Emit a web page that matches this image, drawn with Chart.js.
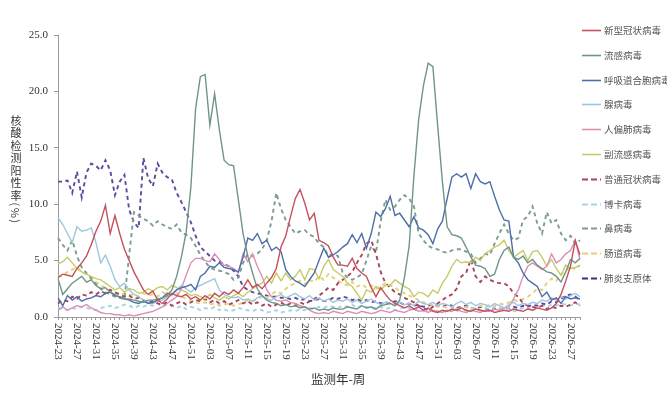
<!DOCTYPE html>
<html>
<head>
<meta charset="utf-8">
<script src="https://cdn.jsdelivr.net/npm/chart.js@4/dist/chart.umd.min.js"></script>
<style>
  html,body{margin:0;padding:0;background:#fff;overflow:hidden;}
  #wrap{position:relative;width:667px;height:407px;overflow:hidden;}
  #wrap canvas{position:absolute;left:0;top:0;}
  #ytitle{position:absolute;left:9px;top:115px;writing-mode:vertical-rl;text-orientation:mixed;
    font-family:"Noto Sans CJK SC",sans-serif;font-size:11px;color:#333;letter-spacing:1.5px;line-height:14px;}
  #xtitle{position:absolute;left:311px;top:369px;font-family:"Noto Sans CJK SC",sans-serif;font-size:12.5px;color:#333;white-space:nowrap;}
  #legend{position:absolute;left:582px;top:0;width:100px;}
  .li{position:absolute;left:0;height:14px;white-space:nowrap;font-family:"Noto Sans CJK SC",sans-serif;font-size:9.5px;color:#555;line-height:14px;}
  .li svg{position:absolute;left:0;top:6px;}
  .li span{position:absolute;left:22px;top:0;}
</style>
</head>
<body>
<div id="wrap">
  <canvas id="c" width="667" height="407"></canvas>
  <div id="ytitle">核酸检测阳性率(%)</div>
  <div id="xtitle">监测年-周</div>
  <div id="legend"></div>
</div>
<script>
const weeks = [
 "2024-23","2024-24","2024-25","2024-26","2024-27","2024-28","2024-29","2024-30","2024-31","2024-32",
 "2024-33","2024-34","2024-35","2024-36","2024-37","2024-38","2024-39","2024-40","2024-41","2024-42",
 "2024-43","2024-44","2024-45","2024-46","2024-47","2024-48","2024-49","2024-50","2024-51","2024-52",
 "2025-01","2025-02","2025-03","2025-04","2025-05","2025-06","2025-07","2025-08","2025-09","2025-10",
 "2025-11","2025-12","2025-13","2025-14","2025-15","2025-16","2025-17","2025-18","2025-19","2025-20",
 "2025-21","2025-22","2025-23","2025-24","2025-25","2025-26","2025-27","2025-28","2025-29","2025-30",
 "2025-31","2025-32","2025-33","2025-34","2025-35","2025-36","2025-37","2025-38","2025-39","2025-40",
 "2025-41","2025-42","2025-43","2025-44","2025-45","2025-46","2025-47","2025-48","2025-49","2025-50",
 "2025-51","2025-52","2026-01","2026-02","2026-03","2026-04","2026-05","2026-06","2026-07","2026-08",
 "2026-09","2026-10","2026-11","2026-12","2026-13","2026-14","2026-15","2026-16","2026-17","2026-18",
 "2026-19","2026-20","2026-21","2026-22","2026-23","2026-24","2026-25","2026-26","2026-27","2026-28","2026-29"];

const tickLabels = ["2024-23","2024-27","2024-31","2024-35","2024-39","2024-43","2024-47","2024-51",
 "2025-03","2025-07","2025-11","2025-15","2025-19","2025-23","2025-27","2025-31","2025-35","2025-39",
 "2025-43","2025-47","2025-51","2026-03","2026-07","2026-11","2026-15","2026-19","2026-23","2026-27"];

const yTicks = [0, 5, 10, 15, 20, 25];

const covid = [3.5,3.8,3.7,3.6,4.3,4.8,5.4,6.4,7.6,8.5,
 9.9,7.4,9.0,7.4,6.0,5.0,4.0,3.2,2.4,2.0,
 2.3,1.5,1.2,1.6,2.1,1.9,1.8,2.0,1.6,1.8,
 1.5,1.9,1.6,2.1,1.8,2.2,2.0,2.4,2.1,2.6,
 3.3,2.6,2.9,2.5,3.0,3.5,4.3,6.2,7.2,8.9,
 10.5,11.3,10.1,8.6,9.2,6.8,6.6,6.3,5.3,4.6,
 4.6,4.5,5.2,4.3,3.9,3.6,2.6,1.8,2.6,2.0,
 1.5,1.2,1.0,0.8,1.0,0.7,0.9,0.6,0.8,0.5,
 0.4,0.6,0.5,0.7,0.6,0.8,0.6,0.5,0.7,0.6,
 0.5,0.6,0.4,0.5,0.6,0.5,0.7,0.6,0.5,0.7,
 0.6,0.8,0.7,0.6,0.8,1.2,2.0,3.2,4.5,6.8,5.5];

const flu = [3.4,2.0,2.5,3.0,3.3,3.6,3.1,3.3,2.8,2.5,
 2.6,2.2,2.0,1.7,1.6,1.6,1.5,1.4,1.3,1.5,
 1.5,1.6,1.7,1.9,2.4,3.6,5.3,7.5,11.5,18.5,
 21.3,21.5,17.0,19.8,16.6,13.9,13.5,13.4,10.4,7.4,
 5.4,3.9,2.5,1.9,1.5,1.3,1.2,1.0,1.1,0.9,
 1.0,0.8,0.9,0.7,0.8,0.6,0.7,0.6,0.8,0.7,
 0.7,0.9,0.8,0.7,1.0,0.8,0.9,0.7,1.0,1.1,
 1.2,1.0,1.5,3.5,6.3,12.5,17.5,20.5,22.5,22.2,
 17.0,12.0,8.0,7.3,7.2,7.0,6.2,5.3,4.6,4.5,
 4.3,3.6,3.8,5.1,5.9,6.2,5.3,5.1,5.4,4.8,
 5.1,4.6,4.3,4.0,3.9,3.6,3.1,4.0,5.1,4.8,5.2];

const rsv = [1.7,1.0,1.9,1.5,1.8,1.4,1.6,1.7,1.9,1.8,
 2.1,2.2,1.9,1.8,1.6,1.5,1.3,1.2,1.4,1.2,
 1.3,1.5,1.7,2.1,2.0,2.4,2.6,2.7,2.9,2.4,
 3.6,3.9,4.5,4.4,4.8,4.4,4.3,4.2,4.0,5.3,
 7.0,6.8,7.4,6.5,6.8,5.9,6.2,5.8,4.2,3.6,
 3.2,3.0,2.7,3.3,3.9,5.0,6.1,5.3,5.5,5.8,
 6.2,6.5,7.3,6.6,7.4,6.1,7.4,9.3,8.9,9.6,
 10.7,9.0,9.2,8.6,8.0,8.9,7.9,7.7,7.3,6.5,
 7.8,8.5,10.5,12.4,12.7,12.4,12.7,11.4,12.7,12.0,
 11.8,12.0,10.7,9.5,8.6,8.5,5.3,4.8,3.9,3.3,
 3.0,2.7,1.8,2.2,1.5,1.7,1.2,1.8,1.6,1.7,1.6];

const adeno = [8.8,8.2,7.4,6.6,8.0,7.6,7.7,7.9,6.6,4.8,
 5.5,4.5,3.3,2.7,3.0,2.4,2.0,1.8,1.5,1.3,
 1.2,1.4,1.5,1.8,2.0,2.4,2.8,2.5,2.2,2.6,
 2.8,3.0,3.2,3.4,2.4,2.0,1.8,1.7,1.8,1.5,
 1.6,1.4,1.7,1.9,1.6,1.5,1.8,2.0,1.7,1.9,
 2.1,1.8,1.6,1.9,1.5,1.7,1.4,1.6,1.3,1.5,
 1.4,1.6,1.3,1.5,1.2,1.4,1.6,1.3,1.1,1.3,
 1.2,1.0,1.3,1.1,1.2,1.0,1.4,1.2,1.1,1.3,
 1.0,1.2,1.1,0.9,1.2,1.4,1.1,1.3,1.0,1.2,
 1.1,0.9,1.2,1.0,0.8,1.1,1.3,1.0,1.2,1.1,
 1.3,1.2,1.5,1.4,1.7,1.5,1.8,1.6,1.9,2.1,1.8];

const hmpv = [0.6,0.9,0.6,0.8,1.0,0.9,1.1,0.8,0.6,0.4,
 0.3,0.3,0.2,0.2,0.1,0.2,0.1,0.2,0.3,0.4,
 0.5,0.7,0.9,1.2,1.5,1.8,2.5,3.7,4.8,5.2,
 5.2,5.0,4.9,5.6,5.1,4.6,4.5,4.3,3.9,5.6,
 4.9,5.6,4.5,3.6,2.4,1.8,1.5,1.4,1.5,1.3,
 1.2,1.0,0.9,0.6,0.4,0.3,0.4,0.3,0.5,0.4,
 0.3,0.5,0.4,0.3,0.5,0.4,0.3,0.4,0.6,0.5,
 0.4,0.6,0.5,0.4,0.6,0.7,0.5,0.6,0.4,0.6,
 0.5,0.4,0.6,0.5,0.7,0.5,0.4,0.6,0.5,0.4,
 0.6,0.5,0.7,0.6,0.8,0.9,1.6,2.4,3.6,4.5,
 4.8,4.5,4.2,4.5,5.6,4.8,5.1,5.6,5.9,6.8,5.1];

const paraflu = [4.7,4.9,5.3,4.8,4.3,4.0,3.8,3.6,3.4,3.3,
 3.0,2.7,2.4,2.6,2.2,2.5,2.4,2.1,2.2,2.5,
 2.3,2.6,2.7,2.4,2.8,2.6,2.4,2.2,1.9,2.0,
 1.8,1.6,2.0,1.7,1.5,1.8,1.6,1.9,2.1,1.8,
 2.2,2.5,2.8,3.0,3.6,3.0,3.9,3.2,3.9,3.3,
 3.6,4.2,3.3,4.3,4.2,3.4,4.5,5.1,4.2,3.9,
 3.6,3.0,2.7,2.1,1.5,2.4,2.2,2.7,2.4,2.8,
 2.8,3.3,3.0,2.7,2.5,1.8,2.2,2.1,1.8,2.4,
 2.1,3.0,3.6,4.5,5.1,4.8,4.9,4.8,5.3,5.0,
 5.6,5.9,6.2,6.4,6.8,5.9,5.3,5.6,5.9,5.0,
 5.8,5.9,5.3,4.5,5.1,4.3,3.7,4.6,4.3,4.4,4.6];

const commonCoV = [1.2,1.5,1.4,1.8,1.6,2.0,1.9,2.2,2.0,2.3,
 2.1,2.4,2.2,2.0,1.8,1.9,1.6,1.7,1.5,1.3,
 1.4,1.2,1.1,1.3,1.0,1.2,1.4,1.1,1.3,1.5,
 1.4,1.6,1.3,1.5,1.2,1.4,1.1,1.3,1.5,1.2,
 1.4,1.1,1.3,1.0,1.2,0.9,1.1,1.3,1.0,1.2,
 1.0,1.3,1.1,1.4,1.6,1.9,2.2,2.6,2.4,3.0,
 3.3,3.6,4.0,4.8,5.5,6.5,6.8,5.6,4.0,3.0,
 2.6,2.2,2.0,1.7,1.5,1.3,1.0,0.8,0.6,0.9,
 1.2,1.5,1.8,2.0,2.5,3.6,3.9,5.1,3.6,3.1,
 3.6,3.3,3.1,3.0,3.0,2.7,2.1,1.8,1.2,1.0,
 0.9,0.8,1.0,0.7,0.9,0.8,1.0,0.9,1.1,1.3,1.0];

const boca = [0.8,0.7,0.6,0.8,0.7,0.9,0.8,0.7,0.6,0.8,
 0.9,1.0,0.8,0.9,1.1,1.0,0.8,1.0,0.9,1.1,
 1.0,1.2,0.9,1.1,1.0,0.8,1.0,0.7,0.9,0.8,
 0.6,0.8,0.7,0.9,0.6,0.7,0.5,0.6,0.8,0.7,
 0.6,0.5,0.7,0.6,0.4,0.5,0.6,0.4,0.5,0.6,
 0.5,0.7,0.6,0.8,0.7,0.9,0.8,1.0,0.9,0.8,
 1.0,0.9,1.1,0.8,1.0,0.9,0.7,0.8,0.9,0.7,
 0.8,0.6,0.7,0.9,0.8,0.6,0.7,0.5,0.6,0.7,
 0.5,0.6,0.4,0.6,0.5,0.7,0.6,0.8,0.7,0.6,
 0.8,0.7,0.9,0.8,0.6,0.7,0.5,0.6,0.8,0.7,
 0.9,0.8,1.0,0.9,1.1,1.0,1.2,1.1,1.0,1.2,1.1];

const rhino = [7.0,6.4,5.9,6.8,5.4,4.4,3.9,3.4,2.9,2.5,
 2.2,2.0,1.8,1.7,1.6,5.5,9.3,9.0,8.7,8.5,
 8.1,8.5,8.2,8.0,7.8,8.2,7.5,7.3,7.0,6.3,
 5.5,4.9,4.4,4.2,4.1,4.0,3.8,3.3,3.5,4.8,
 5.6,5.4,5.6,6.0,6.8,8.5,11.0,9.6,8.6,8.0,
 7.4,7.6,7.7,7.3,7.1,6.5,6.2,5.4,5.6,5.4,
 3.9,3.5,3.3,3.5,3.8,5.0,6.3,5.7,8.5,10.4,
 9.5,9.8,10.4,10.8,10.5,9.8,7.4,6.8,6.3,6.1,
 6.0,5.8,5.7,5.9,6.0,6.0,5.8,5.6,4.8,5.2,
 5.6,5.5,6.5,7.4,8.2,7.4,6.8,7.0,8.6,8.9,
 9.8,8.3,7.4,9.3,8.3,8.6,7.4,6.8,7.2,6.5,6.8];

const entero = [3.5,3.7,4.0,4.2,4.4,4.0,3.8,3.5,3.1,2.8,
 2.6,2.4,2.2,2.0,2.1,1.9,2.0,1.8,2.1,1.9,
 2.0,1.8,2.2,2.0,1.9,2.1,1.8,1.6,1.5,1.3,
 1.2,1.3,1.1,1.2,1.0,1.1,1.2,1.0,1.1,1.3,
 1.5,1.4,1.6,1.8,1.7,2.0,2.3,2.1,2.5,2.8,
 3.0,3.2,2.9,3.3,3.1,3.6,3.3,3.8,3.5,3.2,
 3.0,2.8,3.1,2.7,2.9,2.6,2.8,2.5,2.7,3.0,
 2.8,2.6,2.3,2.1,1.9,1.7,1.5,1.3,1.2,1.0,
 0.9,1.0,0.8,0.9,0.7,0.8,0.9,0.7,0.8,1.0,
 0.9,1.1,1.0,1.2,1.1,1.3,1.5,1.4,1.6,1.8,
 2.1,2.5,2.4,3.0,3.4,3.2,3.8,4.1,4.5,4.2,4.6];

const mycoplasma = [12.0,12.0,12.1,11.0,12.9,10.6,12.8,13.6,13.4,13.0,
 13.9,13.0,10.8,12.0,12.6,9.5,8.4,7.9,14.1,12.3,
 11.6,13.6,12.8,12.4,12.2,11.0,10.2,9.3,8.4,7.2,
 6.2,5.8,5.4,5.0,4.9,4.7,4.5,4.1,3.6,2.7,
 2.4,2.2,2.1,2.0,1.9,1.8,1.8,1.7,1.7,1.6,
 1.7,1.5,1.6,1.4,1.5,1.6,1.4,1.5,1.7,1.6,
 1.8,1.7,1.5,1.6,1.4,1.5,1.3,1.4,1.2,1.3,
 1.2,1.4,1.3,1.1,1.2,1.0,1.1,0.9,1.0,1.1,
 1.0,0.9,1.1,1.0,0.8,0.9,1.0,0.8,0.7,0.9,
 0.8,0.6,0.7,0.8,0.6,0.7,0.9,0.8,1.0,0.9,
 1.1,1.0,1.2,1.1,1.4,1.3,1.6,1.9,2.0,1.8,1.5];

const seriesNames = ["新型冠状病毒","流感病毒","呼吸道合胞病毒","腺病毒","人偏肺病毒","副流感病毒",
 "普通冠状病毒","博卡病毒","鼻病毒","肠道病毒","肺炎支原体"];
const seriesData = [covid, flu, rsv, adeno, hmpv, paraflu, commonCoV, boca, rhino, entero, mycoplasma];
const seriesColors = ["#c4515c","#6e9585","#4d6ea8","#9fc6dc","#db8fb5","#c6cb66",
 "#a8455e","#a9d3e4","#7d9d91","#e4d077","#6147a0"];
const seriesDashed = [false,false,false,false,false,false,true,true,true,true,true];

const datasets = seriesNames.map((n, k) => ({
  label: n,
  data: seriesData[k],
  borderColor: seriesColors[k],
  backgroundColor: seriesColors[k],
  borderWidth: seriesDashed[k] ? 1.9 : 1.4,
  borderDash: seriesDashed[k] ? [4, 3.5] : [],
  pointRadius: 0,
  tension: 0,
  fill: false
}));

// HTML legend
const leg = document.getElementById('legend');
seriesNames.forEach((n, k) => {
  const d = document.createElement('div');
  d.className = 'li';
  d.style.top = (23 + k * 24.8) + 'px';
  const dash = seriesDashed[k] ? 'stroke-dasharray="6,3"' : '';
  const col = k === 10 ? '#3d2f7e' : seriesColors[k];
  d.innerHTML = '<svg width="20" height="3"><line x1="0" y1="1.5" x2="19" y2="1.5" stroke="' +
    col + '" stroke-width="' + (seriesDashed[k] ? 2 : 1.6) + '" ' + dash + '/></svg><span>' + n + '</span>';
  leg.appendChild(d);
});

const xLabelPlugin = {
  id: 'xLabels',
  afterDraw(chart) {
    const xs = chart.scales.x;
    const ctx = chart.ctx;
    ctx.save();
    ctx.fillStyle = '#333';
    ctx.font = '11px "Liberation Serif", "DejaVu Serif", serif';
    ctx.textAlign = 'left';
    ctx.textBaseline = 'middle';
    tickLabels.forEach(lbl => {
      const idx = weeks.indexOf(lbl);
      const x = xs.getPixelForValue(idx);
      ctx.save();
      ctx.translate(x, xs.top + 6);
      ctx.rotate(Math.PI / 2);
      ctx.fillText(lbl, 0, 0);
      ctx.restore();
    });
    ctx.restore();
  }
};

new Chart(document.getElementById('c'), {
  type: 'line',
  data: { labels: weeks, datasets },
  options: {
    responsive: false,
    animation: false,
    devicePixelRatio: 1,
    layout: { padding: { left: 18, right: 87, top: 35, bottom: 40 } },
    plugins: { legend: { display: false }, tooltip: { enabled: false } },
    scales: {
      x: {
        type: 'category',
        offset: false,
        afterFit(s) { s.height = 50; },
        border: { display: true, color: '#9a9a9a', width: 1 },
        grid: { display: true, drawOnChartArea: false, drawTicks: true, tickLength: 3, color: '#9a9a9a' },
        ticks: { display: false }
      },
      y: {
        min: 0, max: 25,
        afterFit(s) { s.width = 40; },
        afterBuildTicks(s) { s.ticks = yTicks.map(v => ({ value: v })); },
        border: { display: true, color: '#9a9a9a', width: 1 },
        grid: { display: true, drawOnChartArea: false, drawTicks: true, tickLength: 4, color: '#9a9a9a' },
        ticks: {
          color: '#333',
          padding: 6,
          font: { family: '"Liberation Serif", "DejaVu Serif", serif', size: 11 },
          callback: v => Number(v).toFixed(1)
        }
      }
    }
  },
  plugins: [xLabelPlugin]
});
</script>
</body>
</html>
